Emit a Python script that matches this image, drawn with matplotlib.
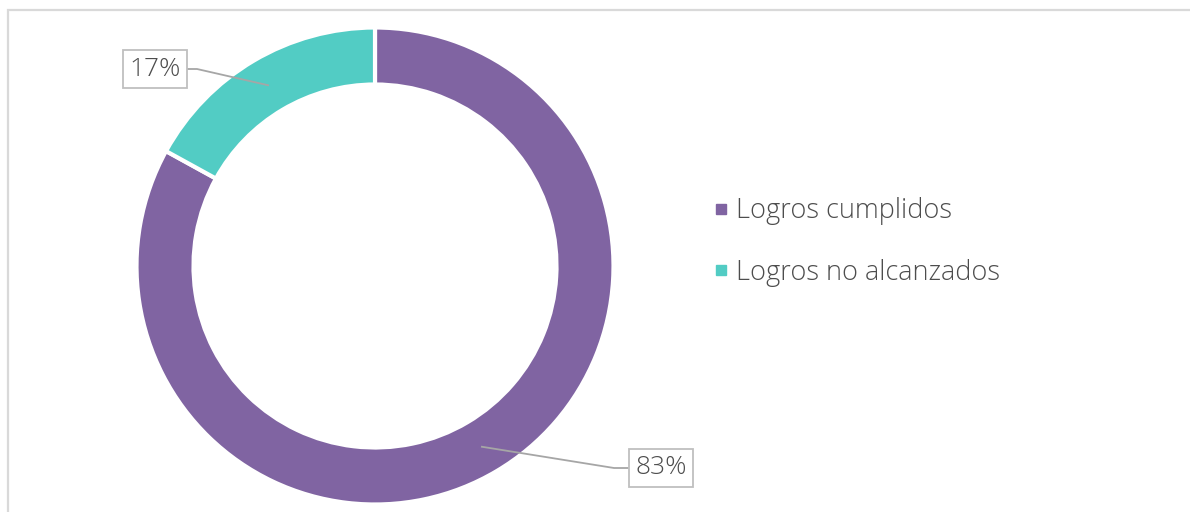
import matplotlib.pyplot as plt
from matplotlib.patches import Rectangle
from matplotlib.lines import Line2D
import numpy as np

# ---- data ----
categories = ["Logros cumplidos", "Logros no alcanzados"]
values = [83, 17]
colors = ["#8064A2", "#52CCC4"]
labels = ["83%", "17%"]

plt.rcParams["font.family"] = ["Open Sans", "DejaVu Sans"]

W, H = 1190, 512
fig = plt.figure(figsize=(W / 100, H / 100), dpi=100)
ax = fig.add_axes([0, 0, 1, 1])

# outer frame (runs off the right/bottom edge)
fig.patches.append(Rectangle((8 / W, -0.05), 1.1, (H - 10) / H + 0.05,
                             transform=fig.transFigure, fill=False,
                             edgecolor="#D9D9D9", linewidth=1.6))

cx, cy = 375, 246
R = 238.5
width = 57

wedges, _ = ax.pie(values, colors=colors, startangle=90, counterclock=False,
                   center=(cx, cy), radius=R, frame=True,
                   wedgeprops=dict(width=width, edgecolor="white", linewidth=3))
ax.set_xlim(0, W)
ax.set_ylim(0, H)
ax.set_aspect("equal")
ax.axis("off")

# label boxes with leader lines
box_pos = [(661, H - 468, +1), (155, H - 69, -1)]
for w, lab, (bx, by, side) in zip(wedges, labels, box_pos):
    ang = np.deg2rad((w.theta1 + w.theta2) / 2)
    r = 210
    px, py = cx + r * np.cos(ang), cy + r * np.sin(ang)
    ax.text(bx, by, lab, ha="center", va="center", fontsize=19,
            color="#4D4D4D", fontweight="light",
            bbox=dict(boxstyle="square,pad=0.25", facecolor="white",
                      edgecolor="#BFBFBF", linewidth=1.3))
    edge_x = bx - 33 if side > 0 else bx + 32
    elbow_x = edge_x - 14 if side > 0 else edge_x + 10
    ax.plot([px, elbow_x, edge_x], [py, by, by], color="#A6A6A6",
            linewidth=1.3, zorder=1.5)

handles = [Line2D([], [], marker="s", linestyle="none", markersize=7,
                  markerfacecolor=c, markeredgecolor=c) for c in colors]
leg = ax.legend(handles, categories, loc="center left",
                bbox_to_anchor=(703 / W, (H - 242) / H), frameon=False,
                fontsize=19.5, labelcolor="#4D4D4D", handlelength=0.55,
                handletextpad=0.25, labelspacing=1.25, borderaxespad=0)
for t in leg.get_texts():
    t.set_fontweight("light")

fig.savefig("out.png", dpi=100)
